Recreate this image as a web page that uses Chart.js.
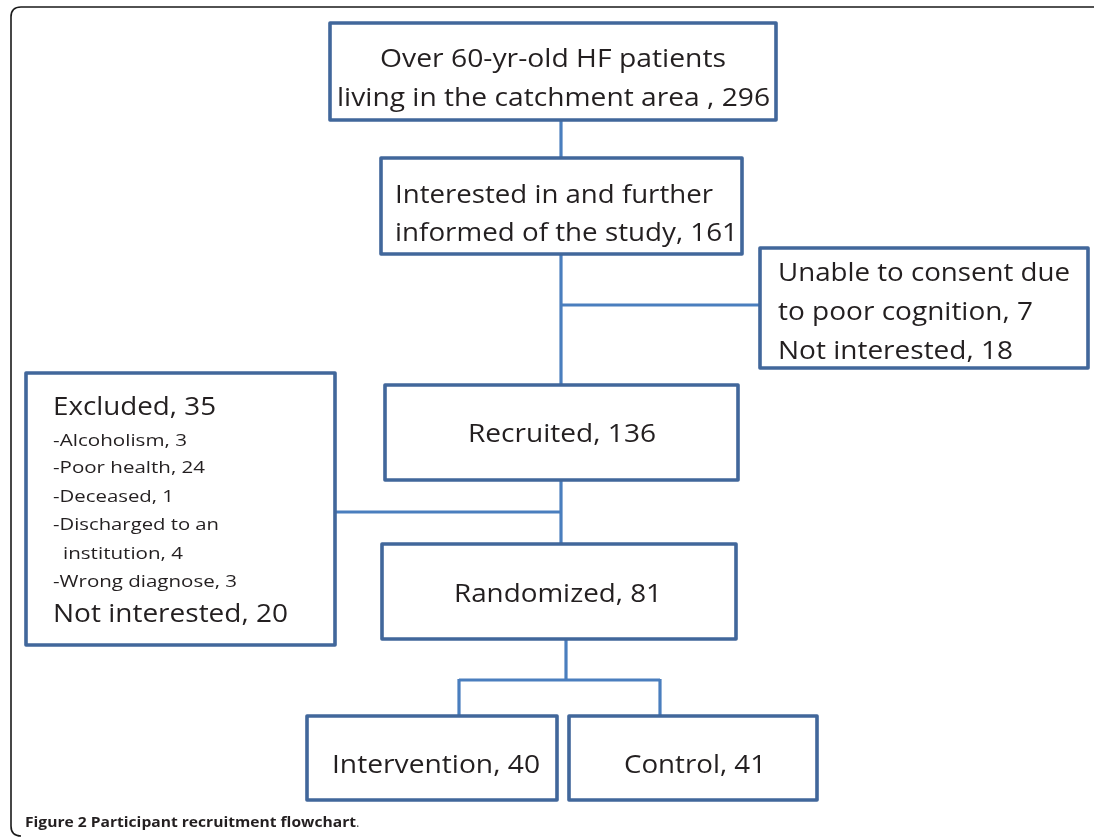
<!DOCTYPE html>
<html>
<head>
<meta charset="utf-8">
<script src="https://cdn.jsdelivr.net/npm/chart.js@4/dist/chart.umd.min.js"></script>
<style>
html,body{margin:0;padding:0;background:#ffffff;}
#wrap{width:1094px;height:837px;position:relative;}
</style>
</head>
<body>
<div id="wrap"><canvas id="c"></canvas></div>
<script>
// ---------------- DATA ----------------
const stageNames = ["Over 60-yr-old HF patients living in the catchment area", "Interested in and further informed of the study", "Recruited", "Randomized", "Intervention", "Control"];
const stageCounts = [296, 161, 136, 81, 40, 41];
const dropoutNames = ["Unable to consent due to poor cognition", "Not interested"];
const dropoutCounts = [7, 18];
const excludedLabel = "Excluded";
const excludedTotal = 35;
const exclusionReasons = ["Alcoholism", "Poor health", "Deceased", "Discharged to an institution", "Wrong diagnose"];
const exclusionCounts = [3, 24, 1, 4, 3];
const notInterestedLabel = "Not interested";
const notInterestedCount = 20;
const captionBold = "Figure 2 Participant recruitment flowchart";

// ---------------- TEXT LINES (built from data, wrapped as in the figure) ----------------
const textTop = ["Over 60-yr-old HF patients", "living in the catchment area , " + stageCounts[0]];
const textInformed = ["Interested in and further", "informed of the study, " + stageCounts[1]];
const textDropout = ["Unable to consent due", "to poor cognition, " + dropoutCounts[0], dropoutNames[1] + ", " + dropoutCounts[1]];
const textRecruited = [stageNames[2] + ", " + stageCounts[2]];
const textExcluded = [
  excludedLabel + ", " + excludedTotal,
  "-" + exclusionReasons[0] + ", " + exclusionCounts[0],
  "-" + exclusionReasons[1] + ", " + exclusionCounts[1],
  "-" + exclusionReasons[2] + ", " + exclusionCounts[2],
  "-Discharged to an",
  "institution, " + exclusionCounts[3],
  "-" + exclusionReasons[4] + ", " + exclusionCounts[4],
  notInterestedLabel + ", " + notInterestedCount
];
const textRandomized = [stageNames[3] + ", " + stageCounts[3]];
const textIntervention = [stageNames[4] + ", " + stageCounts[4]];
const textControl = [stageNames[5] + ", " + stageCounts[5]];

// ---------------- LAYOUT (scale units) ----------------
const boxes = [
  [330, 23, 776, 120],
  [381, 158, 742, 254],
  [760, 248, 1088, 368],
  [385, 385, 738, 480],
  [26, 373, 335, 645],
  [382, 544, 736, 639],
  [307, 716, 557, 800],
  [569, 716, 817, 800]
];
const connectors = [
  [561, 120, 561, 158],
  [561, 254, 561, 385],
  [561, 305, 760, 305],
  [561, 480, 561, 544],
  [335, 512, 561, 512],
  [566, 639, 566, 680],
  [459, 680, 660, 680],
  [459, 679, 459, 716],
  [660, 679, 660, 716]
];
// [text, left, baseline, fontSize, targetWidth]
const lines = [
  [textTop[0], 380, 67, 25, 346],
  [textTop[1], 337, 106, 25, 433],
  [textInformed[0], 395, 203, 25, 318],
  [textInformed[1], 395, 241, 25, 343],
  [textDropout[0], 778, 281, 25, 292],
  [textDropout[1], 778, 320, 25, 255],
  [textDropout[2], 778, 359, 25, 235],
  [textRecruited[0], 468, 442, 25, 188],
  [textExcluded[0], 53, 415, 25, 163],
  [textExcluded[1], 53, 446, 17, 134],
  [textExcluded[2], 53, 473, 17, 152],
  [textExcluded[3], 53, 502, 17, 121],
  [textExcluded[4], 53, 530, 17, 166],
  [textExcluded[5], 63, 559, 17, 120],
  [textExcluded[6], 53, 587, 17, 184],
  [textExcluded[7], 53, 622, 25, 235],
  [textRandomized[0], 454, 602, 25, 208],
  [textIntervention[0], 332, 773, 25, 208],
  [textControl[0], 624, 773, 25, 142]
];

const BOX_COLOR = "#41679b";
const LINK_COLOR = "#4a7ebe";
const TEXT_COLOR = "#231f20";
const FONT = "'Open Sans', Lato, sans-serif";

const flowPlugin = {
  id: "flow",
  afterDraw(chart) {
    const ctx = chart.ctx;
    const X = v => chart.scales.x.getPixelForValue(v);
    const Y = v => chart.scales.y.getPixelForValue(v);
    ctx.save();
    // outer frame
    ctx.strokeStyle = "#1a1a1a";
    ctx.lineWidth = 1.6;
    ctx.beginPath();
    const fx0 = X(11), fy0 = Y(7), fx1 = X(1110), fy1 = Y(836), r = 10;
    ctx.moveTo(fx0 + r, fy0);
    ctx.lineTo(fx1, fy0);
    ctx.moveTo(fx0, fy0 + r);
    ctx.lineTo(fx0, fy1 - r);
    ctx.quadraticCurveTo(fx0, fy1, fx0 + r, fy1);
    ctx.moveTo(fx0, fy0 + r);
    ctx.quadraticCurveTo(fx0, fy0, fx0 + r, fy0);
    ctx.stroke();

    // connectors
    ctx.strokeStyle = LINK_COLOR;
    ctx.lineWidth = 3.2;
    ctx.lineCap = "butt";
    connectors.forEach(c => {
      ctx.beginPath();
      ctx.moveTo(X(c[0]), Y(c[1]));
      ctx.lineTo(X(c[2]), Y(c[3]));
      ctx.stroke();
    });

    // boxes
    ctx.lineWidth = 3.6;
    ctx.strokeStyle = BOX_COLOR;
    ctx.lineJoin = "round";
    boxes.forEach(b => {
      ctx.fillStyle = "#ffffff";
      const x0 = X(b[0]), y0 = Y(b[1]), x1 = X(b[2]), y1 = Y(b[3]);
      ctx.fillRect(x0, y0, x1 - x0, y1 - y0);
      ctx.strokeRect(x0, y0, x1 - x0, y1 - y0);
    });

    // texts
    ctx.fillStyle = TEXT_COLOR;
    ctx.textBaseline = "alphabetic";
    ctx.textAlign = "left";
    const drawFit = (t, left, base, size, width, weight) => {
      ctx.font = (weight || "normal") + " " + size + "px " + FONT;
      const w = ctx.measureText(t).width;
      const sx = width / w;
      ctx.save();
      ctx.translate(X(left), Y(base));
      ctx.scale(sx, 1);
      ctx.fillText(t, 0, 0);
      ctx.restore();
    };
    lines.forEach(l => drawFit(l[0], l[1], l[2], l[3], l[4]));

    // caption
    drawFit(captionBold, 25, 827, 15, 331, "bold");
    ctx.fillStyle = "#555555";
    ctx.font = "normal 13px " + FONT;
    ctx.fillText(".", X(356), Y(827));
    ctx.restore();
  }
};

new Chart(document.getElementById("c"), {
  type: "scatter",
  data: { datasets: [{ data: [], pointRadius: 0 }] },
  options: {
    responsive: true,
    maintainAspectRatio: false,
    animation: false,
    events: [],
    layout: { padding: 0 },
    plugins: { legend: { display: false }, tooltip: { enabled: false } },
    scales: {
      x: { type: "linear", min: 0, max: 1094, display: false },
      y: { type: "linear", min: 0, max: 837, reverse: true, display: false }
    }
  },
  plugins: [flowPlugin]
});
</script>
</body>
</html>
